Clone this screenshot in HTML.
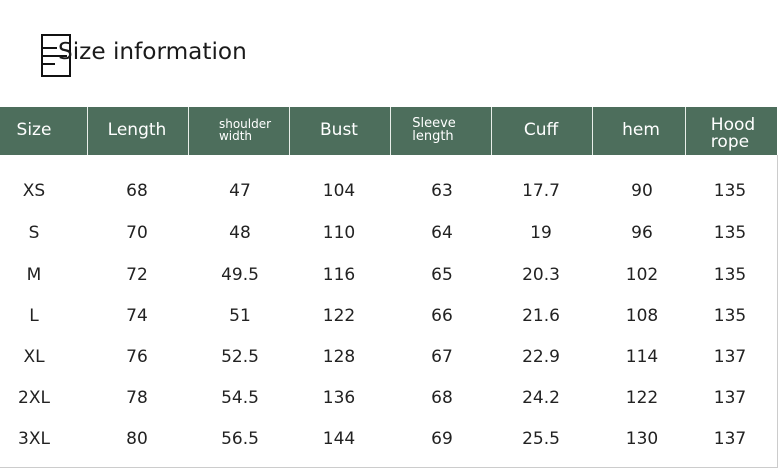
<!DOCTYPE html>
<html><head><meta charset="utf-8"><style>
body{margin:0;width:781px;height:470px;background:#fff;position:relative;overflow:hidden;font-family:"DejaVu Sans","Liberation Sans",sans-serif;}
.t{position:absolute;white-space:nowrap;transform:translate(-50%,-50%);}
.h{color:#fff;}
</style></head><body>
<div style="position:absolute;left:41px;top:34px;width:30px;height:43px;border:2px solid #111;box-sizing:border-box;"></div>
<div style="position:absolute;left:43px;top:47px;width:14px;height:2px;background:#111"></div>
<div style="position:absolute;left:43px;top:55px;width:24px;height:2px;background:#111"></div>
<div style="position:absolute;left:43px;top:63px;width:12px;height:2px;background:#111"></div>
<div style="position:absolute;left:58px;top:38px;font-size:23.2px;color:#1a1a1a;">Size information</div>
<div style="position:absolute;left:0;top:107px;width:777px;height:48px;background:#4d6e5c"></div>
<div style="position:absolute;left:777px;top:155px;width:1px;height:313px;background:#ccc"></div>
<div style="position:absolute;left:0;top:467px;width:778px;height:1px;background:#ccc"></div>
<svg style="position:absolute;left:0;top:0" width="781" height="470">
<g stroke="#e8eee9" stroke-width="1">
<line x1="87.5" y1="107" x2="87.5" y2="155"/><line x1="188.5" y1="107" x2="188.5" y2="155"/>
<line x1="289.5" y1="107" x2="289.5" y2="155"/><line x1="390.5" y1="107" x2="390.5" y2="155"/>
<line x1="491.5" y1="107" x2="491.5" y2="155"/><line x1="592.5" y1="107" x2="592.5" y2="155"/>
<line x1="685.5" y1="107" x2="685.5" y2="155"/></g></svg>
<div class="t h" style="left:34px;top:130px;font-size:17px">Size</div>
<div class="t h" style="left:137px;top:130px;font-size:17px">Length</div>
<div class="t h" style="left:245px;top:130px;font-size:12px;line-height:12px;text-align:left">shoulder<br>width</div>
<div class="t h" style="left:339px;top:130px;font-size:17px">Bust</div>
<div class="t h" style="left:434px;top:130px;font-size:13px;line-height:13px;text-align:left">Sleeve<br>length</div>
<div class="t h" style="left:541px;top:130px;font-size:17px">Cuff</div>
<div class="t h" style="left:641px;top:130px;font-size:17px">hem</div>
<div class="t h" style="left:733px;top:134px;font-size:17px;line-height:17px;text-align:left">Hood<br>rope</div>
<div id="rows"></div>
<script>
var d=[["XS",68,47,104,63,17.7,90,135],["S",70,48,110,64,19,96,135],["M",72,49.5,116,65,20.3,102,135],["L",74,51,122,66,21.6,108,135],["XL",76,52.5,128,67,22.9,114,137],["2XL",78,54.5,136,68,24.2,122,137],["3XL",80,56.5,144,69,25.5,130,137]];
var xs=[34,137,240,339,442,541,642,730],ys=[191,233,275,316,357,398,439],h="";
d.forEach(function(r,i){r.forEach(function(v,j){h+='<div class="t" style="left:'+xs[j]+'px;top:'+ys[i]+'px;font-size:17px;color:#222">'+v+'</div>';});});
document.getElementById("rows").innerHTML=h;
</script>
</body></html>
